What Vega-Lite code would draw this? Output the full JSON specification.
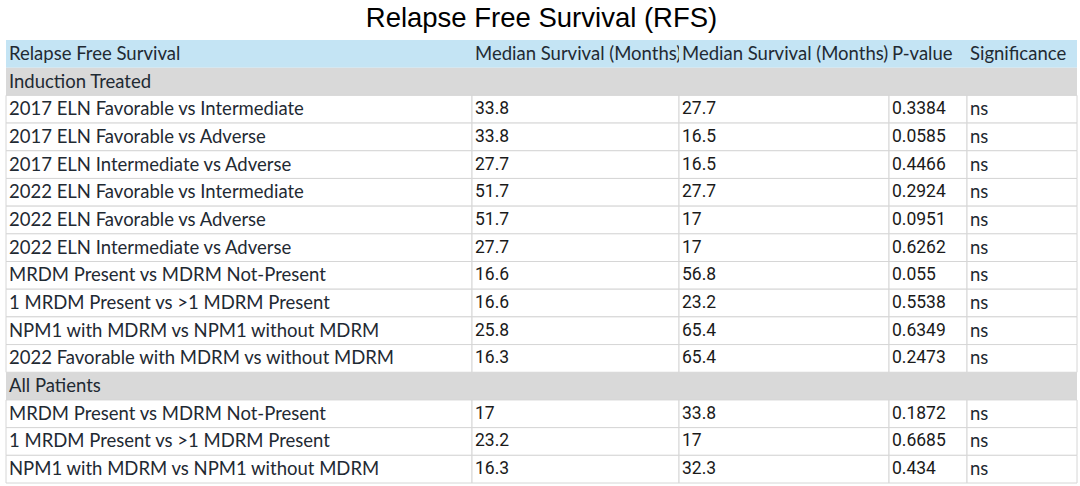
{
  "$schema": "https://vega.github.io/schema/vega-lite/v6.json",
  "padding": {"left": 5, "top": 4, "right": 0, "bottom": 0},
  "background": "#ffffff",
  "title": {"text": "Relapse Free Survival (RFS)", "anchor": "middle", "font": "Liberation Sans", "fontSize": 27.5, "fontWeight": "normal", "color": "#000000", "offset": 8},
  "config": {"view": {"stroke": null}},
  "spacing": 0,
  "bounds": "flush",
  "data": {"values": [
    {"row": 0, "kind": "header", "label": "Relapse Free Survival", "m1": "Median Survival (Months)", "m2": "Median Survival (Months)", "p": "P-value", "sig": "Significance"},
    {"row": 1, "kind": "group", "label": "Induction Treated", "m1": "", "m2": "", "p": "", "sig": ""},
    {"row": 2, "kind": "data", "label": "2017 ELN Favorable vs Intermediate", "m1": "33.8", "m2": "27.7", "p": "0.3384", "sig": "ns"},
    {"row": 3, "kind": "data", "label": "2017 ELN Favorable vs Adverse", "m1": "33.8", "m2": "16.5", "p": "0.0585", "sig": "ns"},
    {"row": 4, "kind": "data", "label": "2017 ELN Intermediate vs Adverse", "m1": "27.7", "m2": "16.5", "p": "0.4466", "sig": "ns"},
    {"row": 5, "kind": "data", "label": "2022 ELN Favorable vs Intermediate", "m1": "51.7", "m2": "27.7", "p": "0.2924", "sig": "ns"},
    {"row": 6, "kind": "data", "label": "2022 ELN Favorable vs Adverse", "m1": "51.7", "m2": "17", "p": "0.0951", "sig": "ns"},
    {"row": 7, "kind": "data", "label": "2022 ELN Intermediate vs Adverse", "m1": "27.7", "m2": "17", "p": "0.6262", "sig": "ns"},
    {"row": 8, "kind": "data", "label": "MRDM Present vs MDRM Not-Present", "m1": "16.6", "m2": "56.8", "p": "0.055", "sig": "ns"},
    {"row": 9, "kind": "data", "label": "1 MRDM Present vs >1 MDRM Present", "m1": "16.6", "m2": "23.2", "p": "0.5538", "sig": "ns"},
    {"row": 10, "kind": "data", "label": "NPM1 with MDRM vs NPM1 without MDRM", "m1": "25.8", "m2": "65.4", "p": "0.6349", "sig": "ns"},
    {"row": 11, "kind": "data", "label": "2022 Favorable with MDRM vs without MDRM", "m1": "16.3", "m2": "65.4", "p": "0.2473", "sig": "ns"},
    {"row": 12, "kind": "group", "label": "All Patients", "m1": "", "m2": "", "p": "", "sig": ""},
    {"row": 13, "kind": "data", "label": "MRDM Present vs MDRM Not-Present", "m1": "17", "m2": "33.8", "p": "0.1872", "sig": "ns"},
    {"row": 14, "kind": "data", "label": "1 MRDM Present vs >1 MDRM Present", "m1": "23.2", "m2": "17", "p": "0.6685", "sig": "ns"},
    {"row": 15, "kind": "data", "label": "NPM1 with MDRM vs NPM1 without MDRM", "m1": "16.3", "m2": "32.3", "p": "0.434", "sig": "ns"}
  ]},
  "hconcat": [
    {
      "width": 466, "height": 443,
      "layer": [
        {"mark": {"type": "rect", "strokeWidth": 1},
         "encoding": {
           "y": {"field": "row", "type": "ordinal", "axis": null, "scale": {"paddingInner": 0, "paddingOuter": 0}},
           "fill": {"field": "kind", "type": "nominal", "scale": {"domain": ["header", "group", "data"], "range": ["#c4e4f4", "#d9d9d9", "#ffffff"]}, "legend": null},
           "stroke": {"condition": {"test": "datum.kind === 'data'", "value": "#d6d6d6"}, "value": null}
         }},
        {"mark": {"type": "text", "align": "left", "baseline": "middle", "font": "Lato", "fontSize": 18.5, "color": "#1f2a33", "clip": true},
         "encoding": {
           "y": {"field": "row", "type": "ordinal", "axis": null, "scale": {"paddingInner": 0, "paddingOuter": 0}},
           "x": {"value": 3},
           "text": {"field": "label"}
         }}
      ]
    },
    {
      "width": 207, "height": 443,
      "layer": [
        {"mark": {"type": "rect", "strokeWidth": 1},
         "encoding": {
           "y": {"field": "row", "type": "ordinal", "axis": null, "scale": {"paddingInner": 0, "paddingOuter": 0}},
           "fill": {"field": "kind", "type": "nominal", "scale": {"domain": ["header", "group", "data"], "range": ["#c4e4f4", "#d9d9d9", "#ffffff"]}, "legend": null},
           "stroke": {"condition": {"test": "datum.kind === 'data'", "value": "#d6d6d6"}, "value": null}
         }},
        {"transform": [{"filter": "datum.kind === 'header'"}],
         "mark": {"type": "text", "align": "left", "baseline": "middle", "font": "Lato", "fontSize": 18.5, "color": "#1f2a33", "clip": true},
         "encoding": {
           "y": {"field": "row", "type": "ordinal", "axis": null, "scale": {"paddingInner": 0, "paddingOuter": 0}},
           "x": {"value": 3},
           "text": {"field": "m1"}
         }},
        {"transform": [{"filter": "datum.kind !== 'header'"}],
         "mark": {"type": "text", "align": "left", "baseline": "middle", "font": "Liberation Sans Narrow, Roboto", "fontSize": 17.5, "color": "#1a1a1a", "clip": true},
         "encoding": {
           "y": {"field": "row", "type": "ordinal", "axis": null, "scale": {"paddingInner": 0, "paddingOuter": 0}},
           "x": {"value": 3},
           "text": {"field": "m1"}
         }}
      ]
    },
    {
      "width": 210, "height": 443,
      "layer": [
        {"mark": {"type": "rect", "strokeWidth": 1},
         "encoding": {
           "y": {"field": "row", "type": "ordinal", "axis": null, "scale": {"paddingInner": 0, "paddingOuter": 0}},
           "fill": {"field": "kind", "type": "nominal", "scale": {"domain": ["header", "group", "data"], "range": ["#c4e4f4", "#d9d9d9", "#ffffff"]}, "legend": null},
           "stroke": {"condition": {"test": "datum.kind === 'data'", "value": "#d6d6d6"}, "value": null}
         }},
        {"transform": [{"filter": "datum.kind === 'header'"}],
         "mark": {"type": "text", "align": "left", "baseline": "middle", "font": "Lato", "fontSize": 18.5, "color": "#1f2a33", "clip": true},
         "encoding": {
           "y": {"field": "row", "type": "ordinal", "axis": null, "scale": {"paddingInner": 0, "paddingOuter": 0}},
           "x": {"value": 3},
           "text": {"field": "m2"}
         }},
        {"transform": [{"filter": "datum.kind !== 'header'"}],
         "mark": {"type": "text", "align": "left", "baseline": "middle", "font": "Liberation Sans Narrow, Roboto", "fontSize": 17.5, "color": "#1a1a1a", "clip": true},
         "encoding": {
           "y": {"field": "row", "type": "ordinal", "axis": null, "scale": {"paddingInner": 0, "paddingOuter": 0}},
           "x": {"value": 3},
           "text": {"field": "m2"}
         }}
      ]
    },
    {
      "width": 78, "height": 443,
      "layer": [
        {"mark": {"type": "rect", "strokeWidth": 1},
         "encoding": {
           "y": {"field": "row", "type": "ordinal", "axis": null, "scale": {"paddingInner": 0, "paddingOuter": 0}},
           "fill": {"field": "kind", "type": "nominal", "scale": {"domain": ["header", "group", "data"], "range": ["#c4e4f4", "#d9d9d9", "#ffffff"]}, "legend": null},
           "stroke": {"condition": {"test": "datum.kind === 'data'", "value": "#d6d6d6"}, "value": null}
         }},
        {"transform": [{"filter": "datum.kind === 'header'"}],
         "mark": {"type": "text", "align": "left", "baseline": "middle", "font": "Lato", "fontSize": 18.5, "color": "#1f2a33", "clip": true},
         "encoding": {
           "y": {"field": "row", "type": "ordinal", "axis": null, "scale": {"paddingInner": 0, "paddingOuter": 0}},
           "x": {"value": 3},
           "text": {"field": "p"}
         }},
        {"transform": [{"filter": "datum.kind !== 'header'"}],
         "mark": {"type": "text", "align": "left", "baseline": "middle", "font": "Liberation Sans Narrow, Roboto", "fontSize": 17.5, "color": "#1a1a1a", "clip": true},
         "encoding": {
           "y": {"field": "row", "type": "ordinal", "axis": null, "scale": {"paddingInner": 0, "paddingOuter": 0}},
           "x": {"value": 3},
           "text": {"field": "p"}
         }}
      ]
    },
    {
      "width": 110, "height": 443,
      "layer": [
        {"mark": {"type": "rect", "strokeWidth": 1},
         "encoding": {
           "y": {"field": "row", "type": "ordinal", "axis": null, "scale": {"paddingInner": 0, "paddingOuter": 0}},
           "fill": {"field": "kind", "type": "nominal", "scale": {"domain": ["header", "group", "data"], "range": ["#c4e4f4", "#d9d9d9", "#ffffff"]}, "legend": null},
           "stroke": {"condition": {"test": "datum.kind === 'data'", "value": "#d6d6d6"}, "value": null}
         }},
        {"mark": {"type": "text", "align": "left", "baseline": "middle", "font": "Lato", "fontSize": 18.5, "color": "#1f2a33", "clip": true},
         "encoding": {
           "y": {"field": "row", "type": "ordinal", "axis": null, "scale": {"paddingInner": 0, "paddingOuter": 0}},
           "x": {"value": 3},
           "text": {"field": "sig"}
         }}
      ]
    }
  ]
}
